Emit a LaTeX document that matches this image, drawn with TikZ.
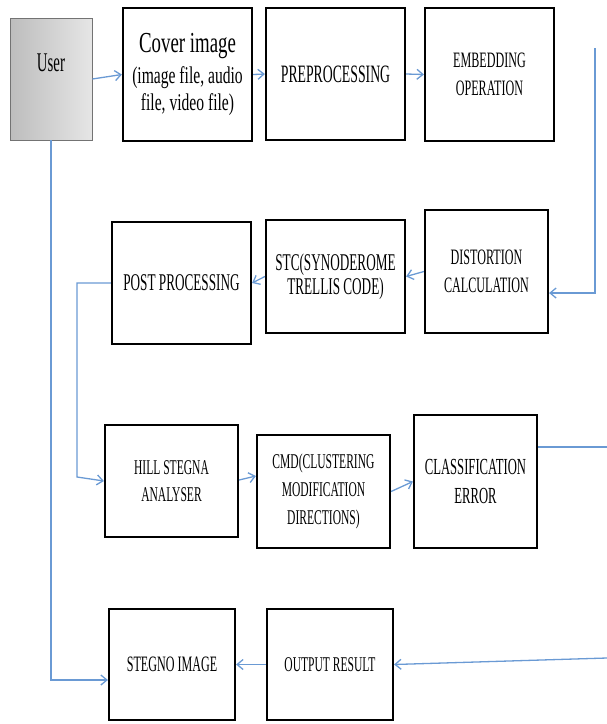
\documentclass[tikz,border=0pt]{standalone}
\usepackage{fontspec}
\setmainfont{Liberation Serif}
\newfontfamily\narrowfont{Liberation Serif}[FakeStretch=0.55]
\newfontfamily\coverfont{Liberation Serif}[FakeStretch=0.65]
\usepackage{tikz}
\usetikzlibrary{
  arrows.meta,
  positioning,
  calc
}
\definecolor{stLink}{HTML}{6A9AD4}
\definecolor{stUserDark}{HTML}{BDBDBD}
\definecolor{stUserLight}{HTML}{E6E6E6}
\tikzset{
  stnode/.style={
    draw, line width=2.2pt, align=center, inner sep=2pt, fill=white
  },
  capbox/.style={stnode, font=\narrowfont\fontsize{22}{28}\selectfont},
  userbox/.style={
    draw=black!55, thick, left color=stUserDark, right color=stUserLight,
    align=center, font=\narrowfont\fontsize{27}{30}\selectfont
  },
  link/.style={-{Straight Barb[length=6pt, width=10pt]}, line width=1.3pt, stLink},
  wire/.style={line width=1.3pt, stLink}
}

\begin{document}
\begin{tikzpicture}[x=1pt, y=-1pt]
  \useasboundingbox (0,0) rectangle (607,724);
  \node[userbox, minimum width=82pt, minimum height=122pt, text depth=32pt] (user) at (51,79) {User};
  \node[stnode, minimum width=129pt, minimum height=133pt, font=\coverfont\fontsize{24}{27}\selectfont] (cover) at (187.5,74.5)
    {{\fontsize{29}{30}\selectfont Cover image}\\[4pt](image file, audio\\file, video file)};
  \node[capbox, minimum width=139pt, minimum height=132pt, font=\narrowfont\fontsize{25}{28}\selectfont] (prep) at (335.5,74) {PREPROCESSING};
  \node[capbox, minimum width=129pt, minimum height=133pt] (embed) at (489.5,74.5) {EMBEDDING\\OPERATION};
  \node[capbox, minimum width=123pt, minimum height=123pt] (distort) at (486.5,271.5) {DISTORTION\\CALCULATION};
  \node[capbox, minimum width=139pt, minimum height=113pt, font=\narrowfont\fontsize{24}{24}\selectfont] (stc) at (335.5,276.5) {STC(SYNODEROME\\TRELLIS CODE)};
  \node[capbox, minimum width=139pt, minimum height=122pt, font=\narrowfont\fontsize{24}{28}\selectfont] (post) at (181.5,283) {POST PROCESSING};
  \node[capbox, minimum width=133pt, minimum height=112pt, font=\narrowfont\fontsize{21}{27}\selectfont] (hill) at (171.5,481) {HILL STEGNA\\ANALYSER};
  \node[capbox, minimum width=133pt, minimum height=113pt, font=\narrowfont\fontsize{21}{28}\selectfont] (cmd) at (323.5,491.5) {CMD(CLUSTERING\\MODIFICATION\\DIRECTIONS)};
  \node[capbox, minimum width=123pt, minimum height=133pt, font=\narrowfont\fontsize{23}{29}\selectfont] (class) at (475.5,481.5) {CLASSIFICATION\\ERROR};
  \node[capbox, minimum width=126pt, minimum height=111pt] (stegno) at (172,664.5) {STEGNO IMAGE};
  \node[capbox, minimum width=126pt, minimum height=111pt, font=\narrowfont\fontsize{21}{28}\selectfont] (output) at (330,664.5) {OUTPUT RESULT};

  \coordinate (rtop) at (595,48);
  \coordinate (bend) at (77,477);
  \coordinate (rmid) at (607,447);
  \coordinate (rbot) at (607,658);

  \draw[link] (user.east) -- (cover.west);
  \draw[link] (cover.east) -- (prep.west);
  \draw[link] (prep.east) -- (embed.west);
  \draw[link] (rtop) |- ([yshift=-21.5pt]distort.east);
  \draw[link] (distort.west) -- (stc.east);
  \draw[link] (stc.west) -- (post.east);
  \draw[link] (post.west) -| (bend) -- (hill.west);
  \draw[link] ([yshift=1pt]hill.east) -- ([yshift=15.5pt]cmd.west);
  \draw[link] (cmd.east) -- (class.west);
  \draw[wire] ([yshift=34.5pt]class.east) -- (rmid);
  \draw[link] (rbot) -- (output.east);
  \draw[link] (output.west) -- (stegno.east);
  \draw[link] (user.south) |- ([yshift=-15.5pt]stegno.west);
\end{tikzpicture}
\end{document}
